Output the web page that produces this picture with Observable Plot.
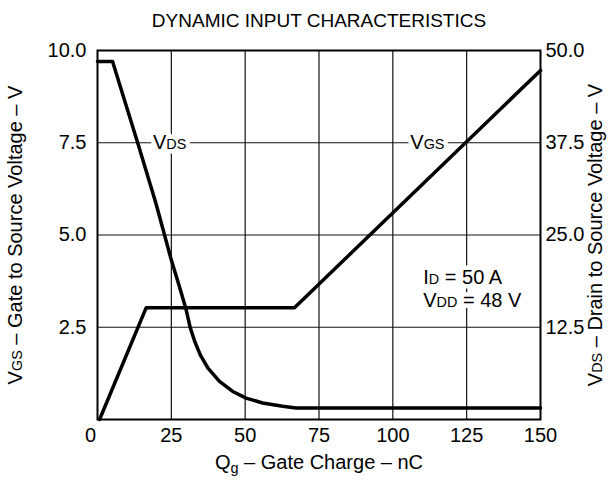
<!DOCTYPE html>
<html><head><meta charset="utf-8">
<script src="https://cdn.jsdelivr.net/npm/d3@7"></script>
<script src="https://cdn.jsdelivr.net/npm/@observablehq/plot@0.6"></script>
<style>body{margin:0;background:#fff}</style>
</head><body><div id="chart"></div>
<script>
const title = "DYNAMIC INPUT CHARACTERISTICS";
const xLabel = "Q__{g} – Gate Charge – nC";
const yLeftLabel = "V_{GS} – Gate to Source Voltage – V";
const yRightLabel = "V_{DS} – Drain to Source Voltage – V";
const xTicks = [0, 25, 50, 75, 100, 125, 150];
const yLeftTicks = [2.5, 5, 7.5, 10];
const yRightTicks = [12.5, 25, 37.5, 50];
const rightScale = 5; // 50 V (right) per 10 V (left)

// VGS (left axis, V) vs gate charge (nC)
const vgsCharge = [0.7, 16.5, 66.7, 150];
const vgsVolts  = [0, 3.03, 3.03, 9.46];

// VDS (right axis, V) vs gate charge (nC)
const vdsCharge = [0, 5.1, 13.6, 19.7, 22.7, 25, 27.6, 29.9, 31.4, 32.9, 34.8, 37.4, 41.3, 45.8, 50.3, 55.9, 62.7, 67.2, 150];
const vdsVolts  = [48.5, 48.5, 37.5, 29.4, 25, 21.6, 18.2, 15.05, 12.45, 10.6, 8.75, 6.95, 5.16, 3.8, 2.9, 2.24, 1.8, 1.56, 1.56];

const curveLabels = [
  {q: 24.4, v: 7.5, t: "V_{DS}"},
  {q: 111.7, v: 7.5, t: "V_{GS}"}
];
const note = [{q: 110.3, v: 3.56, t: "I_{D} = 50 A\nV_{DD} = 48 V"}];

const vgs = vgsCharge.map((q, i) => ({q, v: vgsVolts[i]}));
const vds = vdsCharge.map((q, i) => ({q, v: vdsVolts[i] / rightScale}));

const haloOpts = {fill: "white", stroke: "white", strokeWidth: 9};
const chart = Plot.plot({
  width: 611,
  height: 488,
  marginLeft: 97,
  marginRight: 71,
  marginTop: 50,
  marginBottom: 69,
  style: {fontFamily: "'Liberation Sans', Arial, sans-serif", fontSize: "20px", color: "black", background: "white"},
  x: {domain: [0, 150], axis: null},
  y: {domain: [0, 10], axis: null},
  marks: [
    Plot.gridX(xTicks.slice(1, -1), {stroke: "#111", strokeOpacity: 1, strokeWidth: 1.2}),
    Plot.gridY(yLeftTicks.slice(0, -1), {stroke: "#111", strokeOpacity: 1, strokeWidth: 1.2}),
    // white halos that break the grid lines behind the labels
    Plot.text(curveLabels, {x: "q", y: "v", text: "t", fontSize: 20, ...haloOpts}),
    Plot.text(note, {x: "q", y: "v", text: "t", fontSize: 20, lineHeight: 1.15, textAnchor: "start", ...haloOpts}),
    Plot.text(curveLabels, {x: "q", y: "v", text: "t", fontSize: 20, fill: "black"}),
    Plot.text(note, {x: "q", y: "v", text: "t", fontSize: 20, lineHeight: 1.15, textAnchor: "start", fill: "black"}),
    Plot.line(vgs, {x: "q", y: "v", stroke: "black", strokeWidth: 3.5}),
    Plot.line(vds, {x: "q", y: "v", stroke: "black", strokeWidth: 3.5}),
    Plot.frame({stroke: "black", strokeWidth: 2}),
    Plot.axisY(yLeftTicks, {anchor: "left", tickSize: 0, tickPadding: 11, tickFormat: d => d.toFixed(1), fontSize: 20, label: null}),
    Plot.axisY(yRightTicks.map(v => v / rightScale), {anchor: "right", tickSize: 0, tickPadding: 5, tickFormat: d => (d * rightScale).toFixed(1), fontSize: 20, label: null}),
    Plot.axisX(xTicks.slice(1), {anchor: "bottom", tickSize: 0, tickPadding: 8, fontSize: 20, label: null}),
    Plot.axisX(xTicks.slice(0, 1), {anchor: "bottom", tickSize: 0, tickPadding: 8, dx: -7, fontSize: 20, label: null}),
    Plot.text([title], {frameAnchor: "top", dy: -30, lineAnchor: "middle", fontSize: 19, fill: "black"}),
    Plot.text([xLabel], {frameAnchor: "bottom", dy: 43, lineAnchor: "middle", fontSize: 20, fill: "black"}),
    Plot.text([yLeftLabel], {frameAnchor: "left", dx: -82, rotate: -90, textAnchor: "middle", lineAnchor: "middle", fontSize: 20, fill: "black"}),
    Plot.text([yRightLabel], {frameAnchor: "right", dx: 55, rotate: -90, textAnchor: "middle", lineAnchor: "middle", fontSize: 20, fill: "black"})
  ]
});

// Render "_{x}" as small same-baseline subscript, "__{x}" as lowered subscript
function applySubs(svg) {
  const NS = "http://www.w3.org/2000/svg";
  svg.querySelectorAll("text").forEach(t => {
    const spans = t.querySelectorAll("tspan");
    const els = spans.length ? [...spans] : [t];
    els.forEach(el => {
      const s = el.textContent;
      if (!/__?\{/.test(s)) return;
      while (el.firstChild) el.removeChild(el.firstChild);
      const re = /(__?)\{([^}]*)\}/g;
      let last = 0, m, shift = 0;
      const plain = txt => {
        const ts = document.createElementNS(NS, "tspan");
        if (shift) { ts.setAttribute("dy", -shift); shift = 0; }
        ts.textContent = txt;
        el.appendChild(ts);
      };
      while ((m = re.exec(s))) {
        if (m.index > last) plain(s.slice(last, m.index));
        const sub = document.createElementNS(NS, "tspan");
        sub.setAttribute("font-size", "72%");
        if (m[1] === "__") { shift = 4; sub.setAttribute("dy", shift); }
        sub.textContent = m[2];
        el.appendChild(sub);
        last = re.lastIndex;
      }
      if (last < s.length) plain(s.slice(last));
    });
  });
}
applySubs(chart);
document.getElementById("chart").appendChild(chart);
</script>
</body></html>
